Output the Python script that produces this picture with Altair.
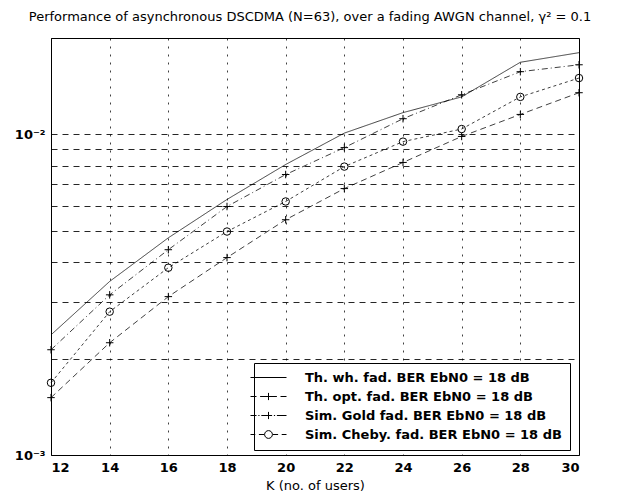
import altair as alt
import pandas as pd

# ---- data ----
K = [12, 14, 16, 18, 20, 22, 24, 26, 28, 30]
th_wh = [2.37e-3, 3.48e-3, 4.76e-3, 6.27e-3, 8.06e-3, 1.01e-2, 1.17e-2, 1.31e-2, 1.68e-2, 1.80e-2]
th_opt = [1.51e-3, 2.24e-3, 3.12e-3, 4.13e-3, 5.42e-3, 6.78e-3, 8.18e-3, 9.86e-3, 1.155e-2, 1.35e-2]
sim_gold = [2.13e-3, 3.16e-3, 4.37e-3, 5.96e-3, 7.50e-3, 9.10e-3, 1.12e-2, 1.33e-2, 1.57e-2, 1.65e-2]
sim_cheby = [1.68e-3, 2.80e-3, 3.84e-3, 4.98e-3, 6.18e-3, 7.94e-3, 9.50e-3, 1.04e-2, 1.31e-2, 1.50e-2]
series_names = [
    "Th. wh. fad. BER EbN0 = 18 dB",
    "Th. opt. fad. BER EbN0 = 18 dB",
    "Sim. Gold fad. BER EbN0 = 18 dB",
    "Sim. Cheby. fad. BER EbN0 = 18 dB",
]
y_ticks = [0.001, 0.002, 0.003, 0.004, 0.005, 0.006, 0.007, 0.008, 0.009, 0.01, 0.02]
title_text = "Performance of asynchronous DSCDMA (N=63), over a fading AWGN channel, \u03b3\u00b2 = 0.1"

rows = []
for name, vals in zip(series_names, [th_wh, th_opt, sim_gold, sim_cheby]):
    for k, v in zip(K, vals):
        rows.append({"K": k, "BER": v, "series": name})
df = pd.DataFrame(rows)

FONT = "DejaVu Sans"

x_enc = alt.X(
    "K:Q",
    scale=alt.Scale(domain=[12, 30], nice=False, zero=False),
    axis=alt.Axis(
        values=K, format="d", title="K (no. of users)", grid=True,
        gridDash=[2, 6], gridColor="#000000", gridOpacity=0.75, gridWidth=1,
        ticks=False, domain=False, labelPadding=6, titlePadding=5,
        labelFont=FONT, labelFontSize=13, labelFontWeight="bold", labelColor="#000000",
        titleFont=FONT, titleFontSize=13, titleFontWeight="normal", titleColor="#000000",
    ),
)
y_enc = alt.Y(
    "BER:Q",
    scale=alt.Scale(type="log", domain=[0.001, 0.02], nice=False),
    axis=alt.Axis(
        values=y_ticks, title=None, grid=True,
        gridDash=[6, 5], gridColor="#000000", gridOpacity=0.85, gridWidth=1,
        ticks=False, domain=False, labelPadding=6,
        labelExpr="abs(datum.value - 0.001) < 1e-9 ? '10\u207b\u00b3' : (abs(datum.value - 0.01) < 1e-9 ? '10\u207b\u00b2' : '')",
        labelFont=FONT, labelFontSize=13, labelFontWeight="bold", labelColor="#000000",
    ),
)

lines = alt.Chart(df).mark_line(color="black", strokeWidth=1, opacity=0.75).encode(
    x=x_enc,
    y=y_enc,
    detail="series:N",
    strokeDash=alt.StrokeDash(
        "series:N",
        scale=alt.Scale(domain=series_names, range=[[1, 0], [6, 4], [6, 3, 1, 3], [3, 3]]),
        legend=None,
    ),
)

plus = "M-1,0L1,0M0,-1L0,1"
marker_series = series_names[1:]
points = (
    alt.Chart(df)
    .transform_filter(alt.FieldOneOfPredicate(field="series", oneOf=marker_series))
    .mark_point(filled=False, color="black", strokeWidth=1, size=56, opacity=1)
    .encode(
        x=x_enc,
        y=y_enc,
        shape=alt.Shape(
            "series:N",
            scale=alt.Scale(domain=marker_series, range=[plus, plus, "circle"]),
            legend=None,
        ),
    )
)

glyphs = [
    "M-3,0L3,0",
    "M-3,0L-2,0M-1.4,0L-0.4,0M-0.6,0L0.6,0M0,-0.6L0,0.6M0.4,0L1.4,0M2,0L3,0",
    "M-3,0L-2,0M-1.7,0L-1.5,0M-1.2,0L0.6,0M0,-0.6L0,0.6M0.9,0L1.1,0M1.4,0L3,0",
    "M-3,0L-2.2,0M-1.6,0L-0.7,0M0.65,0A0.65,0.65 0 1,1 -0.65,0A0.65,0.65 0 1,1 0.65,0M0.7,0L1.6,0M2.2,0L3,0",
]
legend_layer = alt.Chart(df).mark_point(filled=False, color="black", opacity=0).encode(
    x=x_enc,
    y=y_enc,
    shape=alt.Shape(
        "series:N",
        scale=alt.Scale(domain=series_names, range=glyphs),
        legend=alt.Legend(
            title=None, orient="none", legendX=203, legendY=325,
            symbolSize=144, symbolStrokeWidth=1, symbolStrokeColor="black",
            symbolOpacity=1, symbolFillColor="transparent",
            labelFont=FONT, labelFontSize=13, labelFontWeight="bold", labelColor="#000000",
            labelLimit=400, labelOffset=30, rowPadding=5, padding=8,
            strokeColor="black", fillColor="white",
        ),
    ),
)

chart = (
    alt.layer(lines, points, legend_layer)
    .resolve_scale(shape="independent", strokeDash="independent")
    .properties(
        width=528,
        height=417,
        autosize=alt.AutoSizeParams(type="none"),
        padding={"left": 43, "top": 30, "right": 32, "bottom": 44},
        background="white",
        title=alt.TitleParams(
            title_text, font=FONT, fontSize=13, fontWeight="normal", color="#000000",
            offset=14, dx=-5, anchor="middle",
        ),
    )
    .configure_view(stroke="black", strokeWidth=1)
)

chart.save("out.html", embed_options={"renderer": "svg", "actions": False})
